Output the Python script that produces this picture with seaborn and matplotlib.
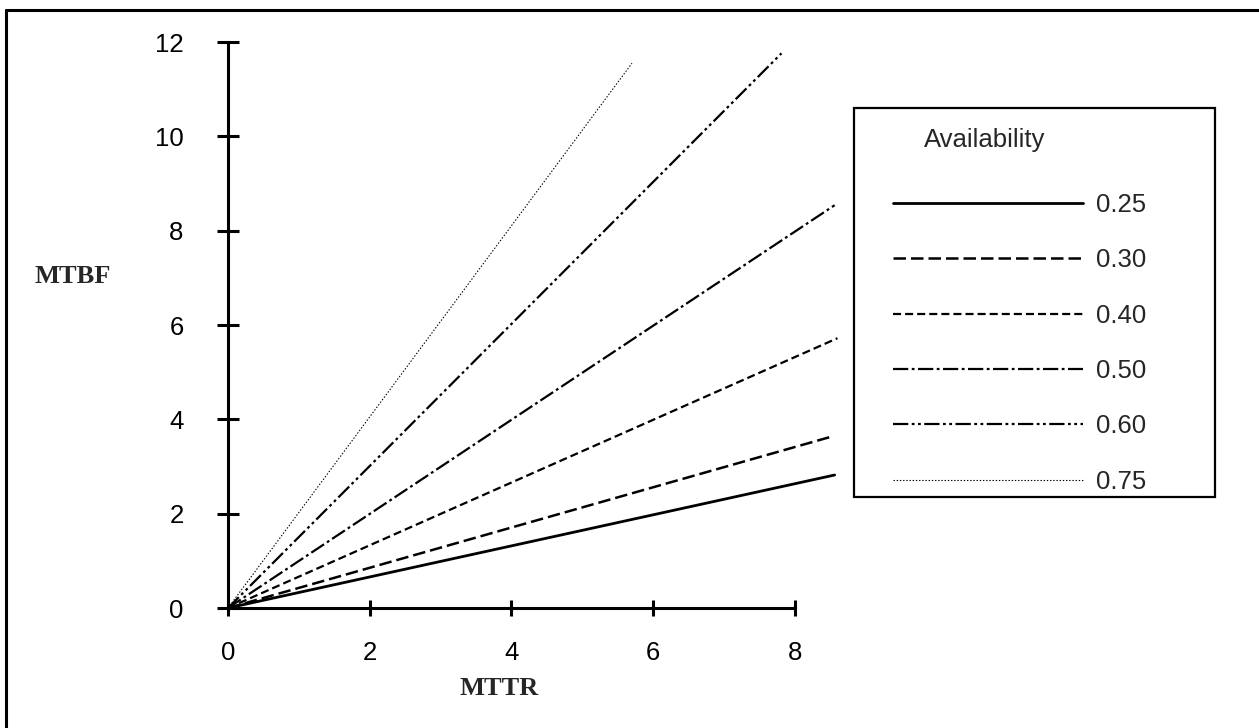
import matplotlib
matplotlib.use('Agg')
import matplotlib.pyplot as plt
from matplotlib.lines import Line2D
from matplotlib.patches import Rectangle
import seaborn as sns
import pandas as pd

# ── Datos ─────────────────────────────────────────────────
availability = ['0.25', '0.30', '0.40', '0.50', '0.60', '0.75']
mttr_end = [8.56, 8.53, 8.60, 8.56, 7.81, 5.70]
mtbf_end = [2.82, 3.64, 5.72, 8.54, 11.76, 11.55]
x_ticks = [0, 2, 4, 6, 8]
y_ticks = [0, 2, 4, 6, 8, 10, 12]

# estilos de línea (en puntos, sin escalar por grosor)
estilos = {
    '0.25': ('-', 2.0),
    '0.30': ((0, (9, 3.6)), 1.8),
    '0.40': ((0, (5.8, 2.9)), 1.6),
    '0.50': ((0, (11, 2.5, 2, 2.5)), 1.6),
    '0.60': ((0, (11, 2.5, 2, 2.5, 2, 2.5)), 1.6),
    '0.75': ((0, (1, 1.3)), 0.8),
}

sns.set_theme(style='white')
plt.rcParams['font.family'] = ['Liberation Sans', 'DejaVu Sans']
plt.rcParams['lines.scale_dashes'] = False

fig = plt.figure(figsize=(12.59, 7.28), dpi=100)
ax = fig.add_axes([0.1811, 0.1648, 0.4869, 0.7775])

handles = []
for a, xe, ye in zip(availability, mttr_end, mtbf_end):
    df = pd.DataFrame({'MTTR': [0, xe], 'MTBF': [0, ye]})
    ls, lw = estilos[a]
    sns.lineplot(data=df, x='MTTR', y='MTBF', ax=ax, color='black',
                 linestyle=ls, linewidth=lw, clip_on=False)
    handles.append(Line2D([], [], color='black', linestyle=ls, linewidth=lw))

ax.set_xlim(0, 8.65)
ax.set_ylim(0, 12)
ax.set_xticks(x_ticks)
ax.set_yticks(y_ticks)
for s in ['top', 'right']:
    ax.spines[s].set_visible(False)
for s in ['left', 'bottom']:
    ax.spines[s].set_color('black')
    ax.spines[s].set_linewidth(2.2)
ax.spines['bottom'].set_bounds(0, 8)
ax.spines['left'].set_bounds(0, 12)
ax.tick_params(axis='y', direction='inout', length=16, width=2.2,
               pad=24, labelsize=18.5, colors='black', left=True)
ax.tick_params(axis='x', direction='inout', length=11, width=2.2,
               pad=18, labelsize=18.5, colors='black', bottom=True)
ax.grid(False)

ax.set_xlabel('MTTR', family='Liberation Serif', fontweight='bold', fontsize=19)
ax.set_ylabel('MTBF', family='Liberation Serif', fontweight='bold', fontsize=19,
              rotation=0, ha='center', va='center')
ax.xaxis.set_label_coords(0.443, -0.122)
ax.yaxis.set_label_coords(-0.254, 0.585)

# leyenda
fig.add_artist(Rectangle((0.6783, 0.3173), 0.2867, 0.5343,
                         transform=fig.transFigure, fill=False,
                         edgecolor='black', linewidth=1.6))
fig.text(0.7824, 0.8077, 'Availability', fontsize=18.5,
         ha='center', va='center')
fig.legend(handles, availability, loc='upper left',
           bbox_to_anchor=(0.7093, 0.735), frameon=False,
           fontsize=18.5, handlelength=7.4, handletextpad=0.5,
           labelspacing=1.22, borderpad=0, borderaxespad=0)

# marco exterior
fig.add_artist(Line2D([0.005, 1.0], [0.986, 0.986], transform=fig.transFigure,
                      color='black', linewidth=2.2))
fig.add_artist(Line2D([0.005, 0.005], [0.0, 0.986], transform=fig.transFigure,
                      color='black', linewidth=2.2))

fig.savefig('out.png', dpi=100)
